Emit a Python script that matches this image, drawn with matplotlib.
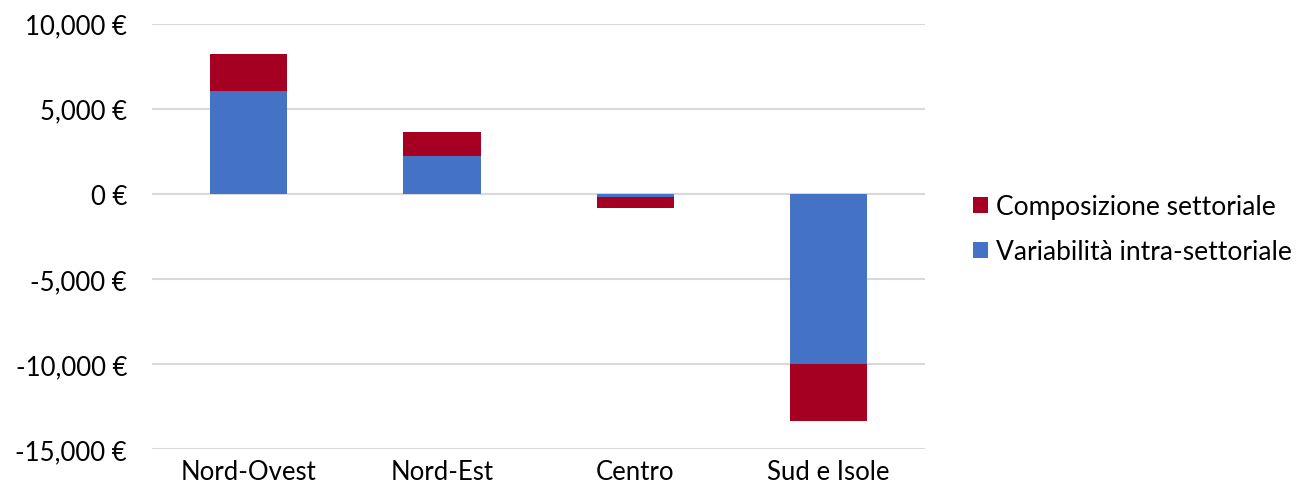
import numpy as np
import matplotlib.pyplot as plt
from matplotlib.ticker import FuncFormatter

plt.rcParams['font.family'] = ['Lato', 'DejaVu Sans']

regioni = ['Nord-Ovest', 'Nord-Est', 'Centro', 'Sud e Isole']
intra_settoriale = [6030, 2210, -200, -9990]
composizione = [2210, 1450, -645, -3360]

blu = '#4472C4'
rosso = '#A50021'

fig = plt.figure(figsize=(13.06, 4.85), dpi=100)
ax = fig.add_axes([0.1164, 0.072, 0.592, 0.877])

x = np.arange(len(regioni))
intra = np.array(intra_settoriale)
comp = np.array(composizione)
ax.bar(x, intra, width=0.4, color=blu, zorder=2, label='Variabilità intra-settoriale')
ax.bar(x, comp, width=0.4, bottom=intra, color=rosso, zorder=2, label='Composizione settoriale')

ax.set_ylim(-15000, 10000)
ax.set_yticks(np.arange(-15000, 10001, 5000))
ax.yaxis.set_major_formatter(FuncFormatter(lambda v, p: f'{int(v):,} €'))
ax.set_xlim(-0.5, len(regioni) - 0.5)
ax.set_xticks(x)
ax.set_xticklabels(regioni)
ax.grid(axis='y', color='#D9D9D9', linewidth=1.5, zorder=0)
for s in ax.spines.values():
    s.set_visible(False)
ax.tick_params(length=0, labelsize=18.5, colors='black')
ax.tick_params(axis='y', pad=18)
ax.tick_params(axis='x', pad=7)

h, l = ax.get_legend_handles_labels()
fig.legend(h[::-1], l[::-1], loc='center left', bbox_to_anchor=(0.727, 0.525),
           frameon=False, fontsize=19, handlelength=0.55, handleheight=0.55,
           handletextpad=0.3, labelspacing=0.75)

fig.savefig('out.png', dpi=100)
